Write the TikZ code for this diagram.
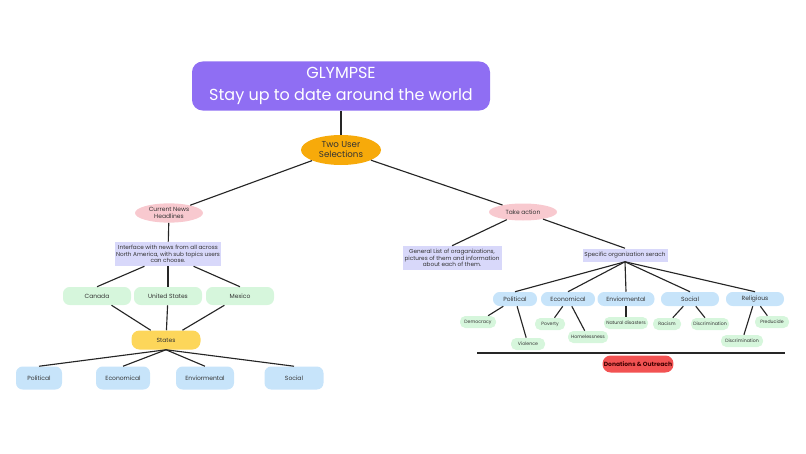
\documentclass[tikz,border=0pt]{standalone}
\usepackage{fontspec}
\setmainfont{Poppins}
\usetikzlibrary{shapes.geometric}
\definecolor{purp}{HTML}{8F6EF3}
\definecolor{orng}{HTML}{F7AA0A}
\definecolor{pnk}{HTML}{F8C9CF}
\definecolor{lav}{HTML}{D8D8FA}
\definecolor{grn}{HTML}{D6F6DC}
\definecolor{yel}{HTML}{FDD65A}
\definecolor{blu}{HTML}{C7E4FA}
\definecolor{rd}{HTML}{F25252}
\begin{document}
\begin{tikzpicture}[x=0.75pt,y=-0.75pt,
 every node/.style={inner sep=1pt,align=center,text=black!80},
 ell/.style={ellipse,fill=pnk,minimum width=#1*0.75pt,minimum height=17*0.75pt,font=\fontsize{4.5}{5}\selectfont},
 box/.style={fill=lav,font=\fontsize{4.3}{5}\selectfont},
 gr/.style={rounded corners=5pt,fill=grn,minimum width=68*0.75pt,minimum height=18*0.75pt,font=\fontsize{4.5}{5}\selectfont},
 sg/.style={rounded corners=4pt,fill=grn,minimum height=12*0.75pt,font=\fontsize{3.5}{4}\selectfont},
 bl/.style={rounded corners=5pt,fill=blu,minimum height=23*0.75pt,font=\fontsize{4.5}{5}\selectfont},
 bp/.style={rounded corners=5pt,fill=blu,minimum width=#1*0.75pt,minimum height=14*0.75pt,font=\fontsize{4.5}{5}\selectfont},
 ln/.style={draw=black!85,line width=0.85pt}]
\useasboundingbox (0,0) rectangle (806,453);
\node[fill=purp,rounded corners=8pt,minimum width=298*0.75pt,minimum height=49*0.75pt,text=white,font=\fontsize{12}{17}\selectfont] (t) at (341,86) {GLYMPSE\\Stay up to date around the world};
\node[ellipse,fill=orng,minimum width=80*0.75pt,minimum height=30*0.75pt,font=\fontsize{6.5}{7.5}\selectfont] (two) at (341,150) {Two User\\Selections};
\node[ell=68] (cn) at (169,213) {Current News\\Headlines};
\node[ell=68] (ta) at (523,212) {Take action};
\node[box,minimum width=100*0.75pt,minimum height=24*0.75pt] (ib) at (168,254) {Interface with news from all across\\North America, with sub topics users\\can choose.};
\node[gr] (ca) at (97,296) {Canada};
\node[gr] (us) at (168,296) {United States};
\node[gr] (mx) at (240,296) {Mexico};
\node[rounded corners=6pt,fill=yel,minimum width=69*0.75pt,minimum height=19*0.75pt,font=\fontsize{4.5}{5}\selectfont] (st) at (166,340) {States};
\node[bl,minimum width=46*0.75pt] (p1) at (39,378) {Political};
\node[bl,minimum width=54*0.75pt] (e1) at (123,378) {Economical};
\node[bl,minimum width=58*0.75pt] (v1) at (205,378) {Enviormental};
\node[bl,minimum width=59*0.75pt] (s1) at (294,378) {Social};
\node[box,minimum width=99*0.75pt,minimum height=24*0.75pt] (gl) at (452,258) {General List of oraganizations,\\pictures of them and information\\about each of them.};
\node[box,minimum width=85*0.75pt,minimum height=13*0.75pt] (so) at (625,255) {Specific organization serach};
\node[bp=44] (p2) at (515,299) {Political};
\node[bp=54] (e2) at (568,299) {Economical};
\node[bp=57] (v2) at (626,299) {Enviormental};
\node[bp=58] (s2) at (690,299) {Social};
\node[bp=58] (r2) at (755,299) {Religious};
\node[sg,minimum width=36*0.75pt] (de) at (478,322) {Democracy};
\node[sg,minimum width=34*0.75pt] (vi) at (528,344) {Violence};
\node[sg,minimum width=30*0.75pt] (po) at (550,324) {Poverty};
\node[sg,minimum width=40*0.75pt] (ho) at (588,337) {Homelessness};
\node[sg,minimum width=44*0.75pt] (na) at (626,323) {Natural disasters};
\node[sg,minimum width=28*0.75pt] (ra) at (667,324) {Racism};
\node[sg,minimum width=38*0.75pt] (di) at (710,324) {Discrimination};
\node[sg,minimum width=34*0.75pt] (pr) at (772,322) {Preducide};
\node[sg,minimum width=42*0.75pt] (d2) at (742,341) {Discrimination};
\coordinate (la) at (477,353); \coordinate (lb) at (785,353);
\node[rounded corners=6pt,fill=rd,minimum width=68*0.75pt,minimum height=17*0.75pt,font=\bfseries\fontsize{4.5}{5}\selectfont,text=black!75!red] (do) at (638,364) {Donations \& Outreach};
\draw[ln] (t)--(two); \draw[ln] (two)--(cn); \draw[ln] (two)--(ta);
\draw[ln] (cn)--(ib);
\draw[ln] (ib.south west)++(30*0.75pt,0)--(ca.north); \draw[ln] (ib)--(us); \draw[ln] (ib.south east)++(-28*0.75pt,0)--(mx.north);
\draw[ln] (ca)--(st); \draw[ln] (us)--(st); \draw[ln] (mx)--(st);
\foreach \n in {p1,e1,v1,s1} \draw[ln] (st.south)--(\n.north);
\draw[ln] (ta)--(gl.north); \draw[ln] (ta)--(so.north);
\foreach \n in {p2,e2,v2,s2,r2} \draw[ln] (so.south)--(\n.north);
\draw[ln] (p2)--(de); \draw[ln] (p2)--(vi); \draw[ln] (e2)--(po); \draw[ln] (e2)--(ho);
\draw[ln] (v2)--(na); \draw[ln] (s2)--(ra); \draw[ln] (s2)--(di); \draw[ln] (r2)--(pr); \draw[ln] (r2)--(d2);
\draw[ln] (la)--(lb);
\end{tikzpicture}
\end{document}
